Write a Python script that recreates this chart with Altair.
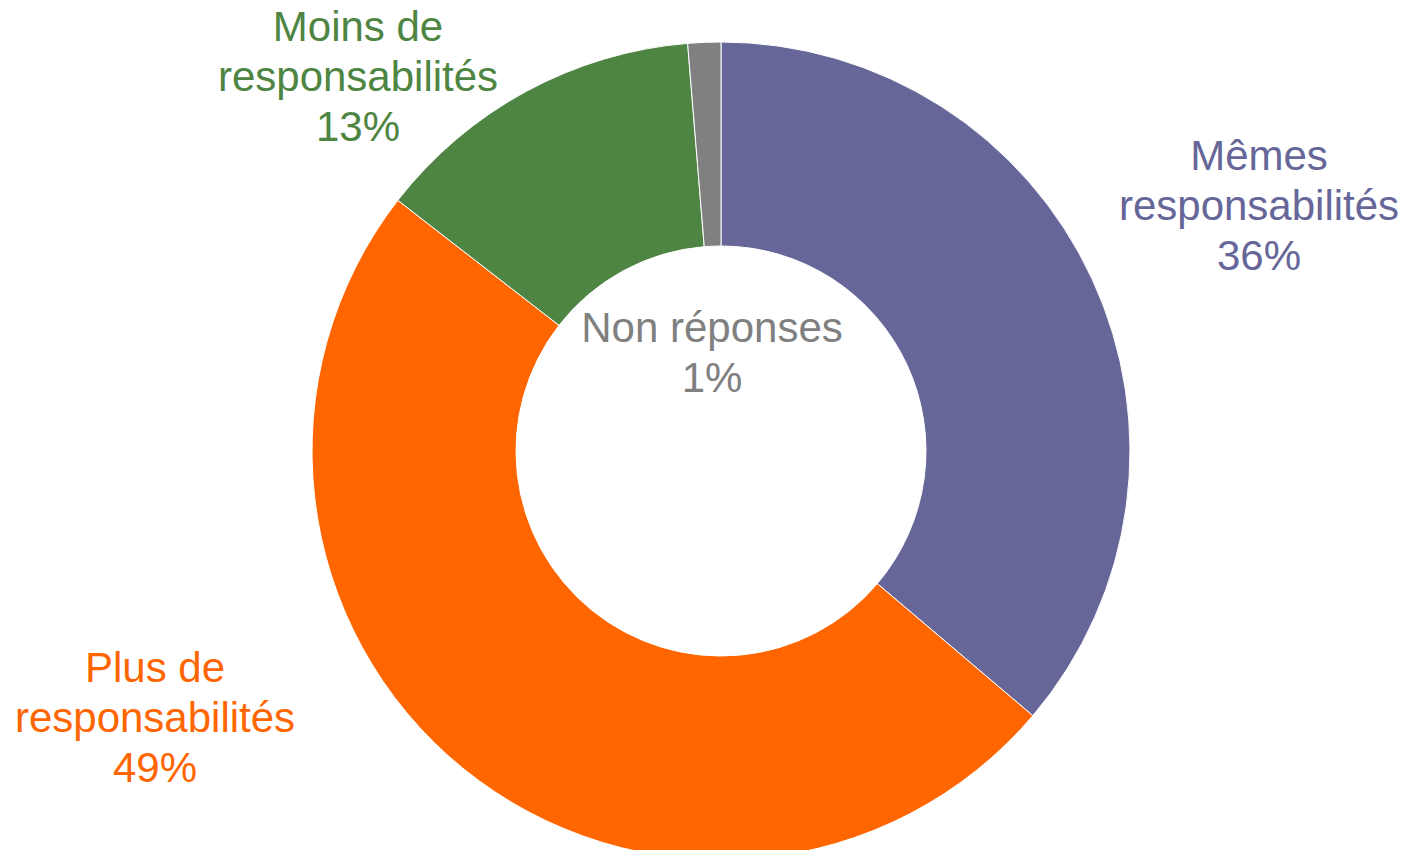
import altair as alt
import pandas as pd

# Data
categories = ["Mêmes responsabilités", "Plus de responsabilités", "Moins de responsabilités", "Non réponses"]
label_lines = [["Mêmes", "responsabilités"], ["Plus de", "responsabilités"], ["Moins de", "responsabilités"], ["Non réponses"]]
values = [36.2, 49.3, 13.2, 1.3]
colors = ["#666699", "#FF6600", "#4E8542", "#808080"]

# Layout (label anchor positions in chart pixels, not data)
W, H = 1392, 842
CX, CY = 713, 443
R_OUT, R_IN = 409, 205
label_x = [1251, 147, 350, 704]
label_y = [149, 661, 20, 321]

df = pd.DataFrame({
    "cat": categories,
    "value": values,
    "order": list(range(len(categories))),
    "label": ["\n".join(l + [f"{round(v)}%"]) for l, v in zip(label_lines, values)],
    "lx": label_x,
    "ly": label_y,
})

color_scale = alt.Scale(domain=categories, range=colors)

arcs = alt.Chart(df).mark_arc(
    radius=R_OUT, radius2=R_IN, stroke="white", strokeWidth=1
).encode(
    theta=alt.Theta("value:Q", stack=True),
    order=alt.Order("order:Q"),
    color=alt.Color("cat:N", scale=color_scale, legend=None),
    x=alt.value(CX),
    y=alt.value(CY),
)

labels = alt.Chart(df).mark_text(
    font="Liberation Sans", fontSize=42, lineHeight=50, lineBreak="\n",
    align="center", baseline="middle"
).encode(
    x=alt.X("lx:Q", scale=None),
    y=alt.Y("ly:Q", scale=None),
    text="label:N",
    color=alt.Color("cat:N", scale=color_scale, legend=None),
)

chart = alt.layer(arcs, labels).properties(
    width=W, height=H, padding=0, autosize=alt.AutoSizeParams(type="none")
).configure_view(stroke=None)

chart.save("out.html", embed_options={"renderer": "svg", "actions": False})
